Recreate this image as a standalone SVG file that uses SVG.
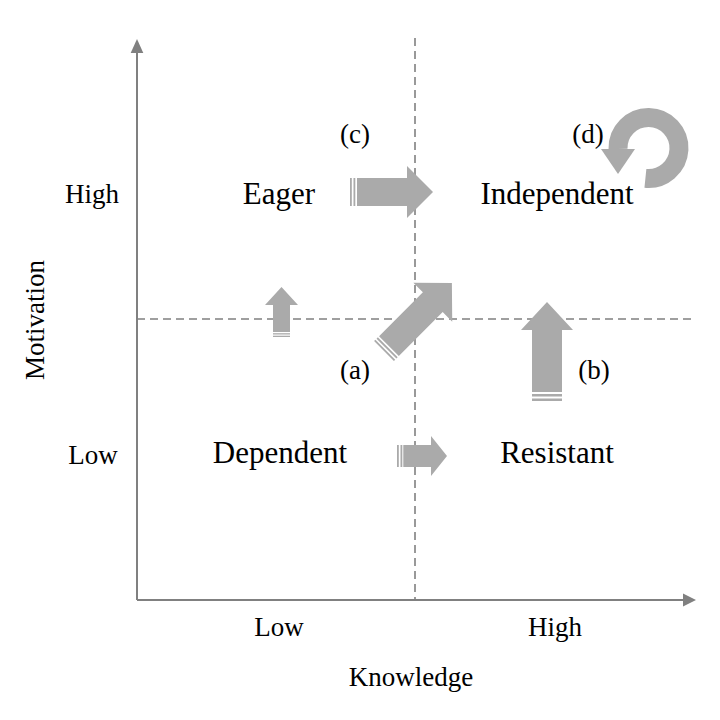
<svg xmlns="http://www.w3.org/2000/svg" width="720" height="720" viewBox="0 0 720 720">
<style>
text{font-family:"Liberation Serif","Times New Roman",serif;fill:#000}
.ax{font-size:27px}
.q{font-size:31px}
.axis{stroke:#808080;stroke-width:2;fill:none}
.dash{stroke:#808080;stroke-width:1.6;stroke-dasharray:8 5;fill:none}
.ar{fill:#aaaaaa}
</style>
<rect width="720" height="720" fill="#ffffff"/>
<g id="connectors">
<line class="dash" x1="415" y1="38" x2="415" y2="600"/>
<line class="dash" x1="137" y1="319" x2="693" y2="319"/>
<line class="axis" x1="137" y1="600" x2="137" y2="52"/>
<polygon fill="#808080" points="137,39 130.7,53 143.3,53"/>
<line class="axis" x1="137" y1="600" x2="684" y2="600"/>
<polygon fill="#808080" points="696,600 683,593.5 683,606.5"/>
<g id="arrow-c" class="ar">
<rect x="350" y="178" width="1.8" height="28"/>
<rect x="353.5" y="178" width="1.8" height="28"/>
<polygon points="357,178 407,178 407,166 433,192 407,218 407,206 357,206"/>
</g>
<g id="arrow-a" class="ar" transform="translate(384,351) rotate(-45)">
<rect x="0" y="-14" width="1.8" height="28"/>
<rect x="3.5" y="-14" width="1.8" height="28"/>
<polygon points="7,-14 69,-14 69,-27.5 96,0 69,27.5 69,14 7,14"/>
</g>
<g id="arrow-b" class="ar" transform="translate(547,401) rotate(-90)">
<rect x="0" y="-15" width="2.5" height="30"/>
<rect x="4.5" y="-15" width="2.5" height="30"/>
<polygon points="9,-15 71,-15 71,-26 99,0 71,26 71,15 9,15"/>
</g>
<g id="arrow-up-small" class="ar" transform="translate(281.5,337) rotate(-90)">
<rect x="0" y="-8.5" width="1.3" height="17"/>
<rect x="2.5" y="-8.5" width="1.3" height="17"/>
<polygon points="5,-8.5 32,-8.5 32,-16.5 50,0 32,16.5 32,8.5 5,8.5"/>
</g>
<g id="arrow-dep" class="ar" transform="translate(397,456)">
<rect x="0" y="-11" width="1.8" height="22"/>
<rect x="3.5" y="-11" width="1.8" height="22"/>
<polygon points="6.3,-11 34,-11 34,-20 50,0 34,20 34,11 6.3,11"/>
</g>
<g id="arrow-d">
<path d="M 645.4 178.4 A 30.5 30.5 0 1 0 618 149" stroke="#aaaaaa" stroke-width="19" fill="none"/>
<polygon class="ar" points="601,149 635,149 618,174"/>
</g>
</g>
<g id="axis-labels">
<text class="ax" x="92" y="203" text-anchor="middle">High</text>
<text class="ax" x="93" y="464" text-anchor="middle">Low</text>
<text class="ax" x="279" y="636" text-anchor="middle">Low</text>
<text class="ax" x="555" y="636" text-anchor="middle">High</text>
<text class="ax" x="411" y="686" text-anchor="middle">Knowledge</text>
<text class="ax" x="44" y="320" text-anchor="middle" transform="rotate(-90 44 320)">Motivation</text>
</g>
<g id="node-eager"><text class="q" x="279" y="204" text-anchor="middle">Eager</text></g>
<g id="node-independent"><text class="q" x="557" y="204" text-anchor="middle">Independent</text></g>
<g id="node-dependent"><text class="q" x="280" y="463" text-anchor="middle">Dependent</text></g>
<g id="node-resistant"><text class="q" x="557" y="463" text-anchor="middle">Resistant</text></g>
<g id="marks">
<text class="ax" x="355" y="143" text-anchor="middle">(c)</text>
<text class="ax" x="588" y="143" text-anchor="middle">(d)</text>
<text class="ax" x="355" y="379" text-anchor="middle">(a)</text>
<text class="ax" x="594" y="379" text-anchor="middle">(b)</text>
</g>
</svg>
